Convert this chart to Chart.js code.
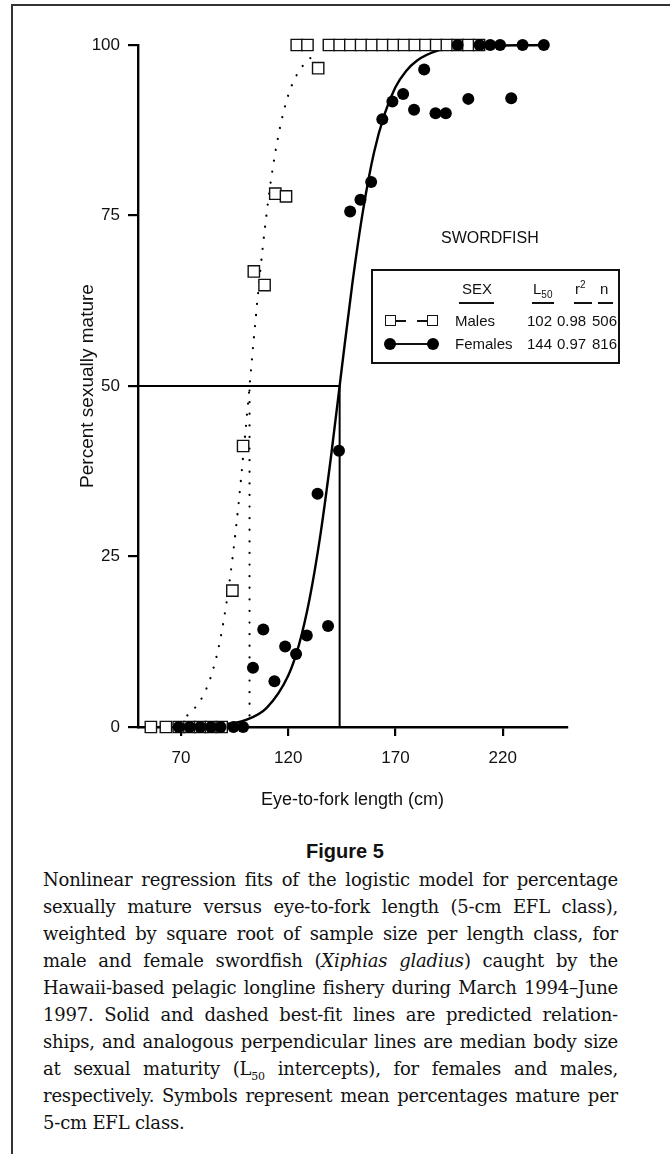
<!DOCTYPE html>
<html>
<head>
<meta charset="utf-8">
<script src="https://cdn.jsdelivr.net/npm/chart.js@4.4.1/dist/chart.umd.min.js"></script>
<style>
  body { margin: 0; background: #fff; }
  #page { position: relative; width: 670px; height: 1154px; overflow: hidden; font-family: 'Liberation Sans', Arial, sans-serif; color: #111; }
  #frameTop { position: absolute; left: 11px; top: 4px; width: 670px; height: 2px; background: #333; }
  #frameLeft { position: absolute; left: 11px; top: 4px; width: 2px; height: 1160px; background: #333; }
  #chartBox { position: absolute; left: 0; top: 0; width: 670px; height: 815px; }
  .t { position: absolute; font-size: 15px; line-height: 18px; white-space: nowrap; }
  .ul { position: absolute; height: 1.5px; background: #111; }
  #legendBox { position: absolute; left: 371px; top: 269px; width: 249px; height: 95px; border: 2px solid #111; box-sizing: border-box; }
  .sq { position: absolute; width: 11px; height: 11px; border: 1.5px solid #111; box-sizing: border-box; background: #fff; }
  .dash { position: absolute; height: 1.5px; background: #111; }
  .dot { position: absolute; width: 12px; height: 12px; border-radius: 50%; background: #000; }
  #figTitle { position: absolute; left: 0; width: 690px; top: 840px; text-align: center; font-weight: bold; font-size: 20px; }
  #caption { position: absolute; left: 43px; top: 866px; width: 575px; font-family: 'DejaVu Serif', serif; font-size: 18px; letter-spacing: -0.2px; line-height: 27px; color: #111; }
  #caption div { text-align: justify; text-align-last: justify; white-space: nowrap; }
  #caption div.last { text-align-last: left; }
</style>
</head>
<body>
<div id="page">
  <div id="frameTop"></div>
  <div id="frameLeft"></div>
  <div id="chartBox"><canvas id="maturityChart" width="670" height="815"></canvas></div>

  <div class="t" id="species" style="left:441px; top:229px; font-size:16px;">SWORDFISH</div>
  <div id="legendBox"></div>
  <div id="legendText"></div>

  <div id="figTitle">Figure 5</div>
  <div id="caption">
    <div>Nonlinear regression fits of the logistic model for percentage</div>
    <div>sexually mature versus eye-to-fork length (5-cm EFL class),</div>
    <div>weighted by square root of sample size per length class, for</div>
    <div>male and female swordfish (<i>Xiphias gladius</i>) caught by the</div>
    <div>Hawaii-based pelagic longline fishery during March 1994–June</div>
    <div>1997. Solid and dashed best-fit lines are predicted relation-</div>
    <div>ships, and analogous perpendicular lines are median body size</div>
    <div>at sexual maturity (L<sub style="font-size:11px; line-height:0;">50</sub> intercepts), for females and males,</div>
    <div>respectively. Symbols represent mean percentages mature per</div>
    <div class="last">5-cm EFL class.</div>
  </div>
</div>

<script>
// axis ticks
const xTicks = [70, 120, 170, 220];
const yTicks = [0, 25, 50, 75, 100];

// males: mean % mature per length class (open squares)
const maleLength = [56, 63, 69, 74, 79, 84, 89, 94, 99, 104, 109, 114, 119, 124, 129, 134,
    139, 144, 149, 154, 159, 164, 169, 174, 179, 184, 189, 194, 199, 204, 209];
const malePct = [0, 0, 0, 0, 0, 0, 0, 20.0, 41.2, 66.8, 64.8, 78.2, 77.8, 100, 100, 96.6,
    100, 100, 100, 100, 100, 100, 100, 100, 100, 100, 100, 100, 100, 100, 100];

// females: mean % mature per length class (filled circles)
const femaleLength = [69, 74, 79, 84, 88.5, 94.5, 99, 103.6, 108.4, 113.6, 118.6, 123.7, 128.7,
    133.7, 138.6, 143.7, 148.9, 153.7, 158.7, 163.9, 168.6, 173.6, 178.7, 183.4, 188.7, 193.5,
    199, 204, 209.2, 214.2, 218.8, 224, 229.3, 239.2];
const femalePct = [0, 0, 0, 0, 0, 0, 0, 8.7, 14.3, 6.7, 11.8, 10.7, 13.4,
    34.2, 14.8, 40.5, 75.6, 77.3, 79.9, 89.1, 91.7, 92.8, 90.5, 96.4, 90.0, 90.0,
    100, 92.1, 100, 100, 100, 92.2, 100, 100];

// fitted curves
const maleFitLength = [73, 76, 80, 84, 88, 92, 96, 100, 104, 108, 112, 116, 120, 124, 128, 132];
const maleFitPct = [1.7, 2.6, 4.4, 7.4, 12.3, 19.8, 30.1, 43.0, 57.0, 69.9, 80.2, 87.6, 92.6, 95.6, 97.4, 98.5];
const femaleFitLength = [70, 80, 90, 100, 110, 120, 125, 130, 135, 140, 145, 150, 155, 160, 165, 170, 175, 180, 190, 200, 239];
const femaleFitPct = [0, 0.1, 0.4, 1.0, 2.8, 7.5, 12.0, 18.8, 28.1, 39.7, 52.6, 65.2, 75.9, 84.2, 89.9, 93.8, 96.2, 97.7, 99.2, 99.7, 100];

// legend table
const sexes = ['Males', 'Females'];
const l50 = [102, 144];
const rSquared = ['0.98', '0.97'];
const sampleN = [506, 816];

function pts(xs, ys) {
    return xs.map((x, i) => ({ x: x, y: ys[i] }));
}

// legend text and symbols (html on top of the canvas)
const legendText = document.getElementById('legendText');
function addText(txt, left, top) {
    const el = document.createElement('div');
    el.className = 't';
    el.style.left = left + 'px';
    el.style.top = top + 'px';
    el.innerHTML = txt;
    legendText.appendChild(el);
    return el;
}
function addBox(cls, left, top, width) {
    const el = document.createElement('div');
    el.className = cls;
    el.style.left = left + 'px';
    el.style.top = top + 'px';
    if (width) el.style.width = width + 'px';
    legendText.appendChild(el);
}
addText('SEX', 462, 280);
addBox('ul', 459, 302, 35);
addText('L<sub style="font-size:10px; line-height:0;">50</sub>', 533, 280);
addBox('ul', 532, 302, 22);
addText('r<sup style="font-size:10px; line-height:0;">2</sup>', 575, 280);
addBox('ul', 574, 302, 18);
addText('n', 600, 280);
addBox('ul', 598, 302, 15);

const rowTop = [312, 335];
sexes.forEach((s, i) => {
    addText(s, 455, rowTop[i]);
    addText(String(l50[i]), 527, rowTop[i]);
    addText(rSquared[i], 557, rowTop[i]);
    addText(String(sampleN[i]), 592, rowTop[i]);
});
// male symbol
addBox('sq', 385, 315);
addBox('dash', 396, 320, 10);
addBox('dash', 417, 320, 10);
addBox('sq', 427, 315);
// female symbol
addBox('dash', 390, 343, 44);
addBox('dot', 384, 338);
addBox('dot', 427, 338);

const ctx = document.getElementById('maturityChart').getContext('2d');
const tickFont = { family: "'Liberation Sans', Arial, sans-serif", size: 17 };

new Chart(ctx, {
    type: 'scatter',
    data: {
        datasets: [
            {
                label: 'Females',
                data: pts(femaleLength, femalePct),
                pointStyle: 'circle',
                pointRadius: 6,
                pointBackgroundColor: '#000',
                pointBorderColor: '#000',
                pointBorderWidth: 0,
                clip: false
            },
            {
                label: 'Males',
                data: pts(maleLength, malePct),
                pointStyle: 'rect',
                pointRadius: 8,
                pointBackgroundColor: '#fff',
                pointBorderColor: '#111',
                pointBorderWidth: 1.4,
                clip: false
            },
            {
                label: 'Female fit',
                data: pts(femaleFitLength, femaleFitPct),
                showLine: true,
                pointRadius: 0,
                borderColor: '#000',
                borderWidth: 2.4,
                cubicInterpolationMode: 'monotone',
                clip: false
            },
            {
                label: 'Male fit',
                data: pts(maleFitLength, maleFitPct),
                showLine: true,
                pointRadius: 0,
                borderColor: '#000',
                borderWidth: 2.2,
                borderDash: [0.1, 11],
                borderCapStyle: 'round',
                cubicInterpolationMode: 'monotone',
                clip: false
            },
            {
                label: 'Female L50',
                data: [{ x: 50, y: 50 }, { x: l50[1], y: 50 }, { x: l50[1], y: 0 }],
                showLine: true,
                pointRadius: 0,
                borderColor: '#000',
                borderWidth: 2
            },
            {
                label: 'Male L50',
                data: [{ x: l50[0], y: 0 }, { x: l50[0], y: 50 }],
                showLine: true,
                pointRadius: 0,
                borderColor: '#000',
                borderWidth: 2.2,
                borderDash: [0.1, 11.5],
                borderCapStyle: 'round'
            }
        ]
    },
    options: {
        responsive: false,
        animation: false,
        events: [],
        layout: { padding: { left: 0, top: 45, right: 103, bottom: 0 } },
        plugins: {
            legend: { display: false },
            tooltip: { enabled: false }
        },
        scales: {
            x: {
                type: 'linear',
                min: 50,
                max: 250,
                afterFit: (scale) => { scale.height = 88; },
                afterBuildTicks: (scale) => { scale.ticks = xTicks.map(v => ({ value: v })); },
                grid: { drawOnChartArea: false, tickLength: 9, color: '#000', lineWidth: 2.2 },
                border: { color: '#000', width: 2.4 },
                ticks: { color: '#111', font: tickFont, padding: 12, maxRotation: 0 },
                title: {
                    display: true,
                    text: 'Eye-to-fork length (cm)',
                    color: '#111',
                    font: { family: tickFont.family, size: 18 },
                    padding: { top: 0, bottom: 4 }
                }
            },
            y: {
                type: 'linear',
                min: 0,
                max: 100,
                afterFit: (scale) => { scale.width = 138; },
                afterBuildTicks: (scale) => { scale.ticks = yTicks.map(v => ({ value: v })); },
                grid: { drawOnChartArea: false, tickLength: 10, color: '#000', lineWidth: 2.2 },
                border: { color: '#000', width: 2.4 },
                ticks: { color: '#111', font: tickFont, padding: 8 },
                title: {
                    display: true,
                    text: 'Percent sexually mature',
                    color: '#111',
                    font: { family: tickFont.family, size: 19 },
                    padding: { top: 76, bottom: 0 }
                }
            }
        }
    }
});
</script>
</body>
</html>
